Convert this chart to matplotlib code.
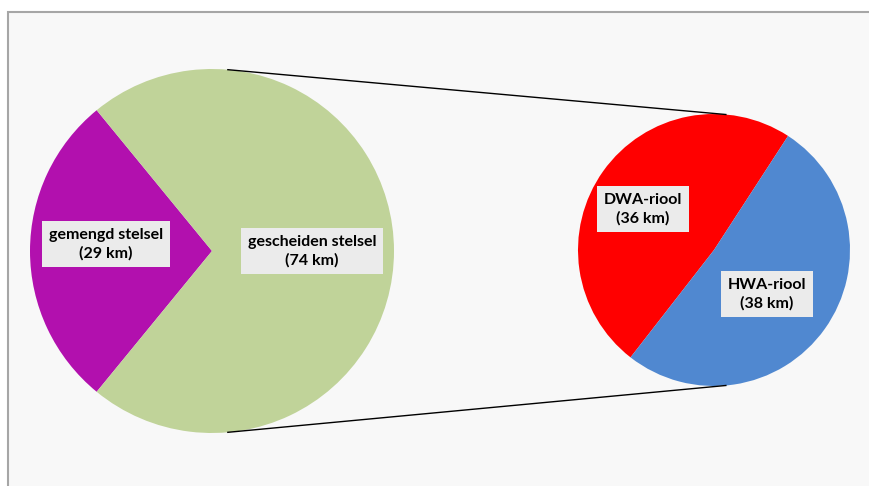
import numpy as np
import matplotlib.pyplot as plt
from matplotlib.patches import Rectangle

# Riolering: lengte per stelsel (km)
main_labels = ["gemengd stelsel", "gescheiden stelsel"]
main_values = [29, 74]
sub_labels = ["DWA-riool", "HWA-riool"]
sub_values = [36, 38]

main_colors = ["#B210AE", "#C0D399"]
sub_colors = ["#FF0000", "#5088D0"]

W, H = 870, 486
fig = plt.figure(figsize=(W / 100, H / 100), dpi=100)
ax = fig.add_axes([0, 0, 1, 1])

# chart area background, with a border on the left and top only
ax.add_patch(Rectangle((8, 0), W - 8, H - 12, facecolor="#F8F8F8",
                       edgecolor="none", zorder=0))
ax.plot([8, 8, W], [0, H - 12, H - 12], color="#A6A6A6", lw=1.5,
        solid_joinstyle="miter", zorder=0.5)

c_main, r_main = (212, 235), 182
c_sub, r_sub = (714, 236), 136

main_span = 360 * main_values[0] / sum(main_values)
ax.pie(main_values, colors=main_colors, center=c_main, radius=r_main,
       startangle=180 - main_span / 2, counterclock=True,
       wedgeprops=dict(linewidth=0), frame=True)
ax.pie(sub_values, colors=sub_colors, center=c_sub, radius=r_sub,
       startangle=57, counterclock=True,
       wedgeprops=dict(linewidth=0), frame=True)

# connector lines between the two pies
for a in (85, -85):
    t = np.radians(a)
    x0 = c_main[0] + r_main * np.cos(t)
    y0 = c_main[1] + r_main * np.sin(t)
    x1 = c_sub[0] + r_sub * np.cos(t)
    y1 = c_sub[1] + r_sub * np.sin(t)
    ax.plot([x0, x1], [y0, y1], color="black", lw=1.0, zorder=1)

box = dict(facecolor="#EBEBEB", edgecolor="none", boxstyle="square,pad=0.45")
font = dict(family=["Lato", "DejaVu Sans"], fontsize=11.5, fontweight="bold",
            ha="center", va="center", linespacing=1.35, zorder=5)

label_pos = [(106, 486 - 244), (312, 486 - 251), (643, 486 - 209), (767, 486 - 294)]
for (x, y), name, v in zip(label_pos, main_labels + sub_labels, main_values + sub_values):
    ax.text(x, y, f"{name}\n({v} km)", bbox=box, **font)

ax.set_aspect("auto")
ax.set_xlim(0, W)
ax.set_ylim(0, H)
ax.axis("off")

fig.savefig("out.png", dpi=100)
